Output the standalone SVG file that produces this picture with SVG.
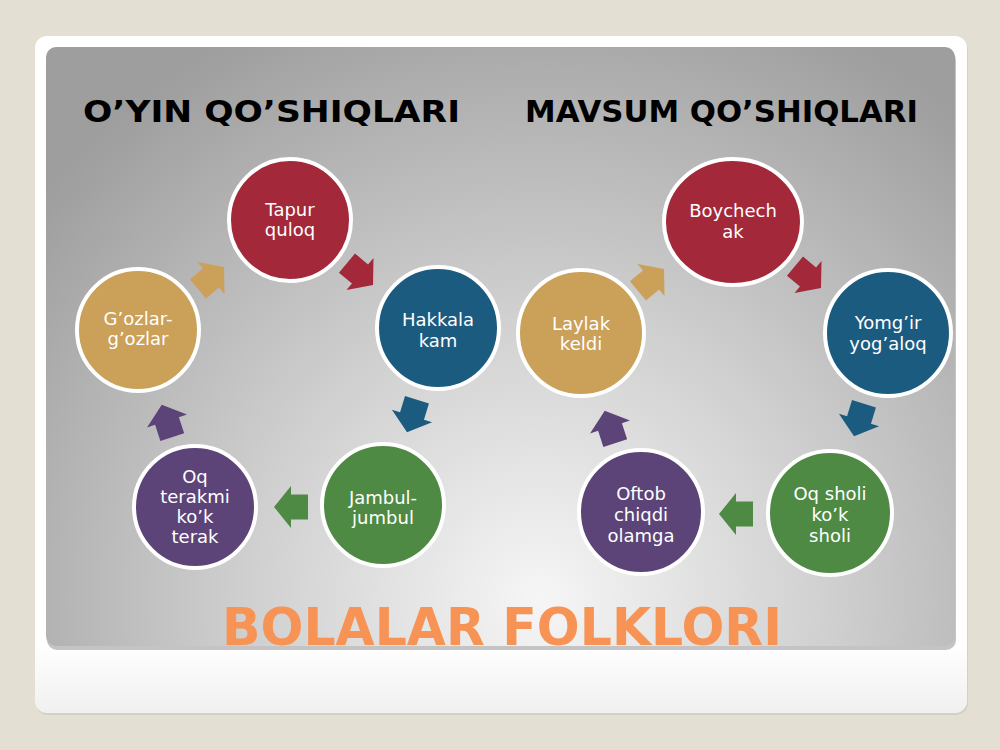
<svg xmlns="http://www.w3.org/2000/svg" width="1000" height="750" viewBox="0 0 1000 750">
<style>
.lbl{font-family:"DejaVu Sans","Noto Sans",sans-serif;font-size:18px;fill:#ffffff;text-anchor:middle}
.head{font-family:"DejaVu Sans","Noto Sans",sans-serif;font-weight:bold;font-size:31px;fill:#000000}
.title{font-family:"DejaVu Sans","Noto Sans",sans-serif;font-weight:bold;font-size:52px;fill:#f79455}
.node circle,.node ellipse{stroke:#ffffff;stroke-width:4}
.red{fill:#a2283a}.blue{fill:#1c5b80}.gold{fill:#cba058}.green{fill:#4e8a43}.purple{fill:#5c4478}
</style>
<defs>
<radialGradient id="bg" cx="540" cy="600" r="640" gradientUnits="userSpaceOnUse">
<stop offset="0" stop-color="#f6f6f6"/>
<stop offset="0.45" stop-color="#d0d0d0"/>
<stop offset="1" stop-color="#9e9e9e"/>
</radialGradient>
<linearGradient id="frame" x1="0" y1="0" x2="0" y2="1">
<stop offset="0" stop-color="#ffffff"/>
<stop offset="0.9" stop-color="#ffffff"/>
<stop offset="1" stop-color="#f0f0f0"/>
</linearGradient>
<path id="arr" d="M-17,-12.5 L0,-12.5 L0,-21 L17,0 L0,21 L0,12.5 L-17,12.5 Z"/>
</defs>
<rect width="1000" height="750" fill="#e3e0d3"/>
<rect x="36" y="38" width="932" height="677" rx="12" fill="#c9c6ba" opacity="0.6"/>
<rect x="35" y="36" width="932" height="677" rx="12" fill="url(#frame)"/>
<rect x="47" y="50" width="909" height="600" rx="10" fill="#8a8a8a" opacity="0.5"/>
<rect x="46" y="47" width="909" height="599" rx="10" fill="url(#bg)"/>
<text class="head" x="83" y="122" textLength="377" lengthAdjust="spacingAndGlyphs">O’YIN QO’SHIQLARI</text>
<text class="head" x="525" y="122" textLength="393" lengthAdjust="spacingAndGlyphs">MAVSUM QO’SHIQLARI</text>
<g id="connectors">
<use href="#arr" class="gold" transform="translate(211,278) rotate(-40)"/>
<use href="#arr" class="red" transform="translate(360,274) rotate(40)"/>
<use href="#arr" class="blue" transform="translate(412,416) rotate(107)"/>
<use href="#arr" class="green" transform="translate(291,507) rotate(180)"/>
<use href="#arr" class="purple" transform="translate(167,421) rotate(-108)"/>
<use href="#arr" class="gold" transform="translate(651,280) rotate(-40)"/>
<use href="#arr" class="red" transform="translate(808,277) rotate(40)"/>
<use href="#arr" class="blue" transform="translate(859,420) rotate(107)"/>
<use href="#arr" class="green" transform="translate(736,514) rotate(180)"/>
<use href="#arr" class="purple" transform="translate(610,427) rotate(-108)"/>
</g>
<g id="n-tapur" class="node"><circle cx="290" cy="220" r="61" class="red"/><text class="lbl" x="290" y="216">Tapur</text><text class="lbl" x="290" y="236">quloq</text></g>
<g id="n-hakkala" class="node"><circle cx="438" cy="328" r="61" class="blue"/><text class="lbl" x="438" y="326">Hakkala</text><text class="lbl" x="438" y="347">kam</text></g>
<g id="n-jambul" class="node"><circle cx="383" cy="505" r="61" class="green"/><text class="lbl" x="383" y="504">Jambul-</text><text class="lbl" x="383" y="524">jumbul</text></g>
<g id="n-oqterak" class="node"><circle cx="195" cy="507" r="61" class="purple"/><text class="lbl" x="195" y="483">Oq</text><text class="lbl" x="195" y="503">terakmi</text><text class="lbl" x="195" y="523">ko’k</text><text class="lbl" x="195" y="543">terak</text></g>
<g id="n-gozlar" class="node"><circle cx="138" cy="330" r="61" class="gold"/><text class="lbl" x="138" y="325">G’ozlar-</text><text class="lbl" x="138" y="345">g’ozlar</text></g>
<g id="n-boychechak" class="node"><ellipse cx="733" cy="222" rx="69" ry="63" class="red"/><text class="lbl" x="733" y="217">Boychech</text><text class="lbl" x="733" y="238">ak</text></g>
<g id="n-yomgir" class="node"><circle cx="888" cy="333" r="63" class="blue"/><text class="lbl" x="888" y="329">Yomg’ir</text><text class="lbl" x="888" y="350">yog’aloq</text></g>
<g id="n-oqsholi" class="node"><circle cx="830" cy="513" r="62" class="green"/><text class="lbl" x="830" y="500">Oq sholi</text><text class="lbl" x="830" y="521">ko’k</text><text class="lbl" x="830" y="542">sholi</text></g>
<g id="n-oftob" class="node"><circle cx="641" cy="512" r="62" class="purple"/><text class="lbl" x="641" y="500">Oftob</text><text class="lbl" x="641" y="521">chiqdi</text><text class="lbl" x="641" y="542">olamga</text></g>
<g id="n-laylak" class="node"><circle cx="581" cy="333" r="63" class="gold"/><text class="lbl" x="581" y="330">Laylak</text><text class="lbl" x="581" y="350">keldi</text></g>
<text class="title" x="222" y="645" textLength="560" lengthAdjust="spacingAndGlyphs">BOLALAR FOLKLORI</text>
</svg>
